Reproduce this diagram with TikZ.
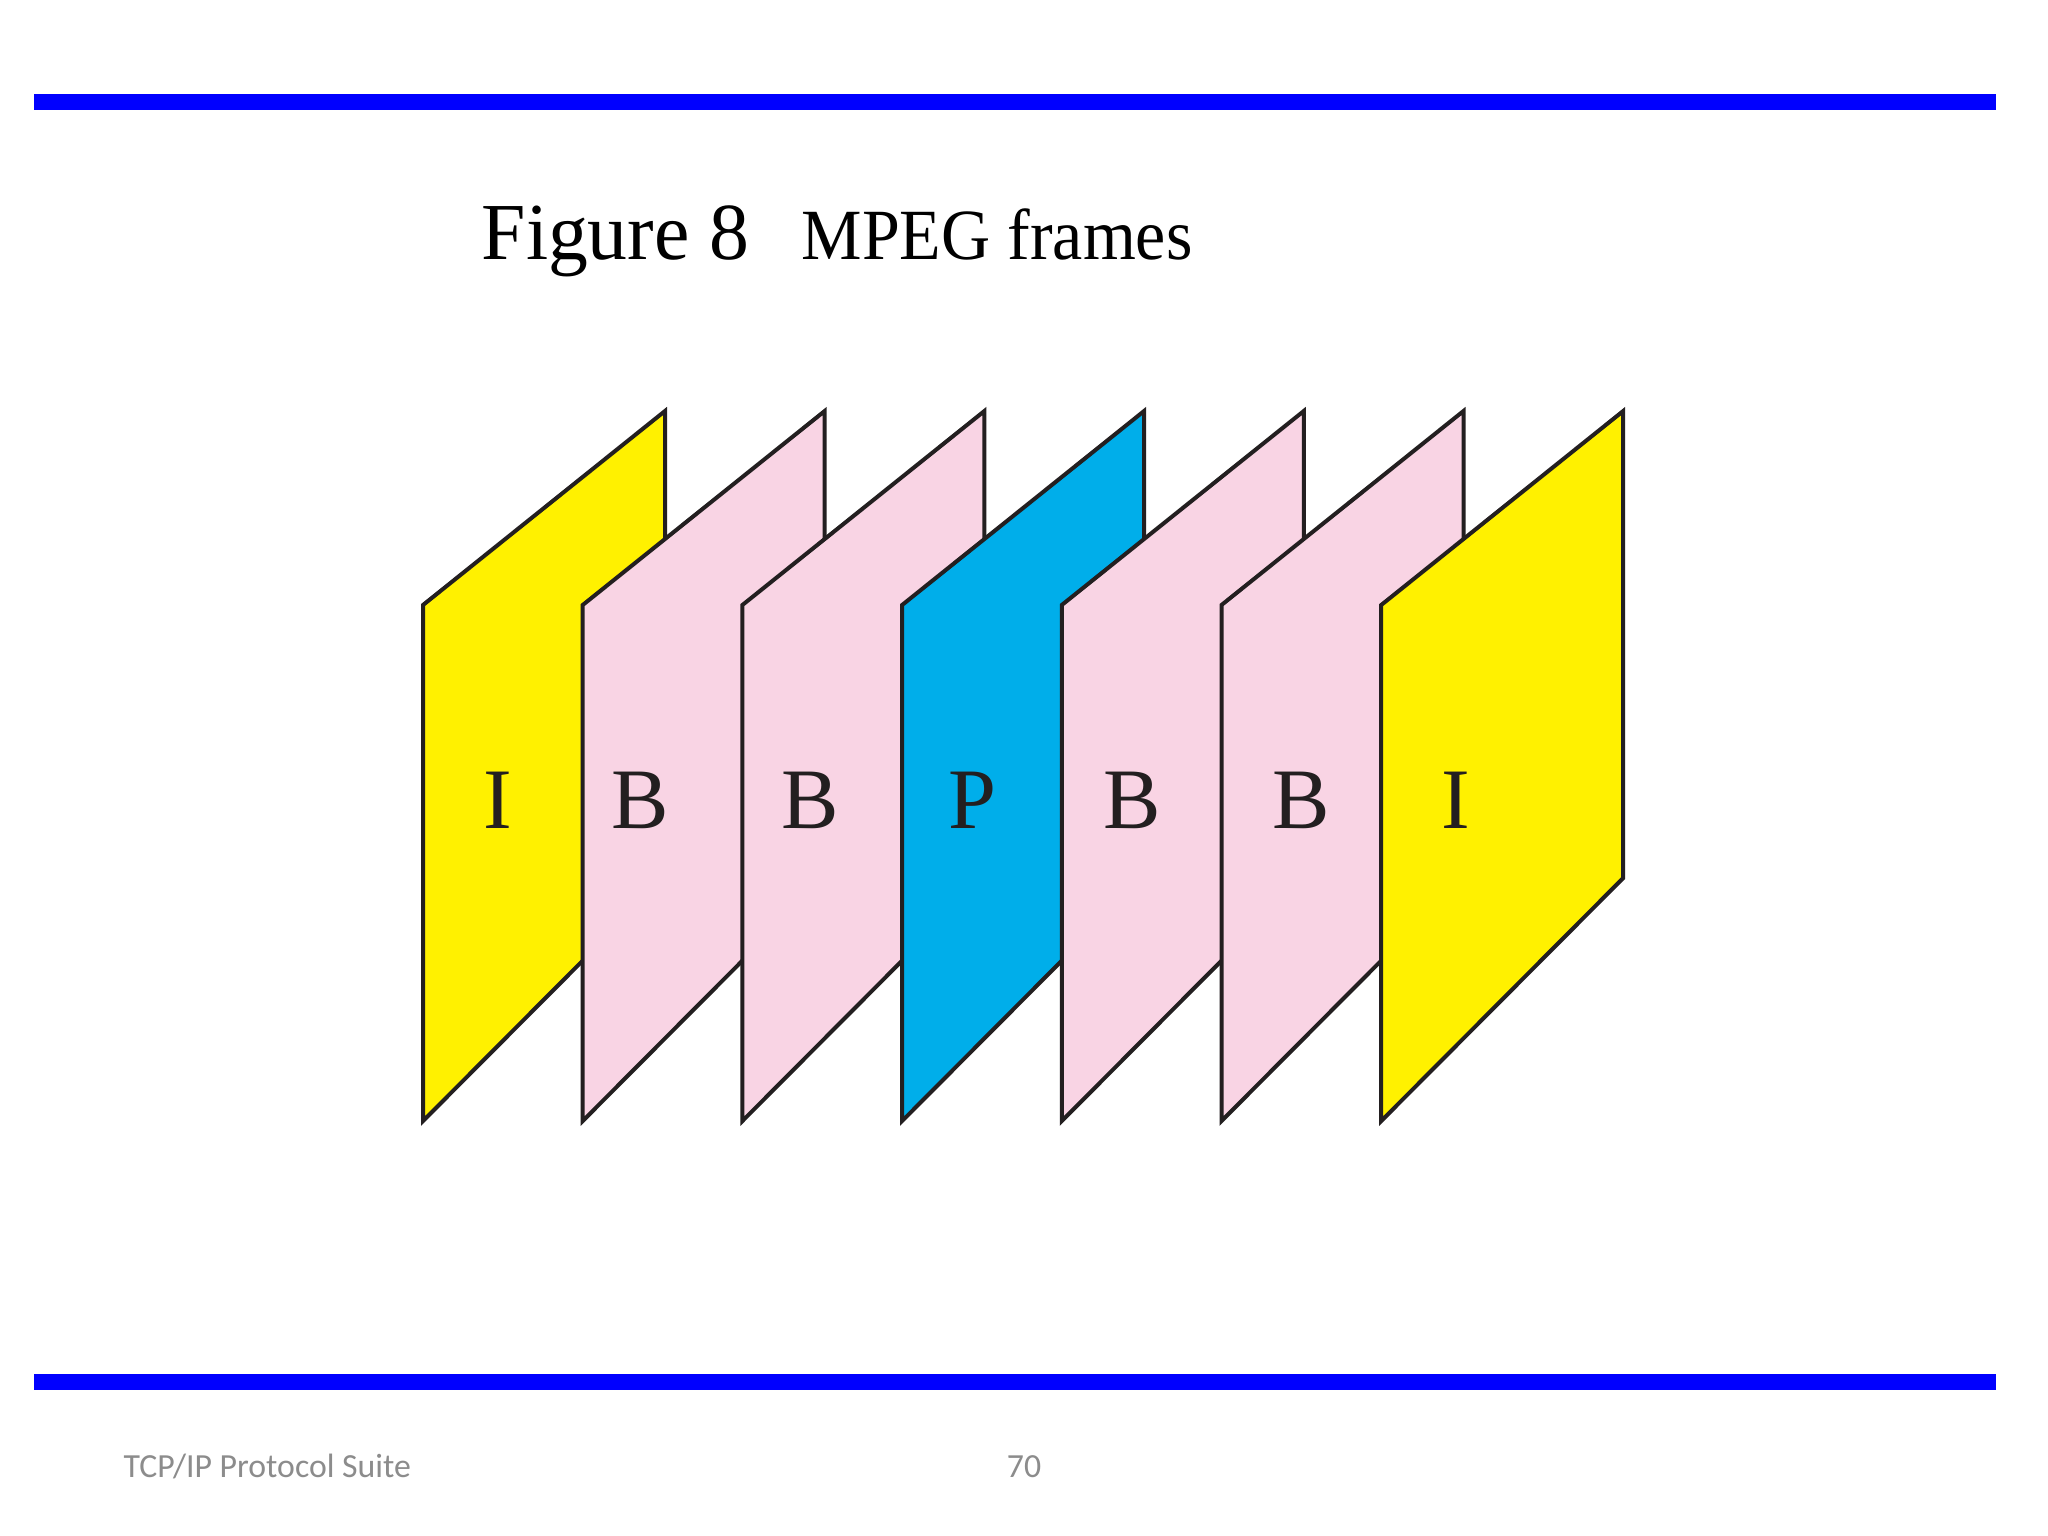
\documentclass[tikz,border=0pt]{standalone}
\usepackage{fontspec}
\newfontfamily\serffont{Liberation Serif}
\newfontfamily\footfont{Carlito}
\definecolor{barblue}{HTML}{0000FF}
\definecolor{fyellow}{HTML}{FFF100}
\definecolor{fpink}{HTML}{F9D4E4}
\definecolor{fblue}{HTML}{00AEEA}
\definecolor{edge}{HTML}{231F20}
\definecolor{footgray}{HTML}{8C8C8C}
\tikzset{
  framebox/.style={draw=edge, line width=0.04cm, line join=miter},
  flabel/.style={inner sep=0, anchor=base, text=edge, font=\serffont\fontsize{24.5}{24.5}\selectfont},
  bar/.style={fill=barblue, draw=none},
}
\begin{document}
\begin{tikzpicture}[x=0.01cm,y=-0.01cm]
\useasboundingbox (0,0) rectangle (2048,1536);
\fill[white] (0,0) rectangle (2048,1536);
% bars
\path[bar] (34,94) rectangle (1996,110);
\path[bar] (34,1374) rectangle (1996,1390);
% title
\node[inner sep=0, anchor=base west, font=\serffont\fontsize{23}{23}\selectfont] (t1) at (481,259) {\scalebox{0.985}[1]{Figure 8}};
\node[inner sep=0, anchor=base west, font=\serffont\fontsize{20.5}{20.5}\selectfont] (t2) at (801,259) {\scalebox{0.943}[1]{MPEG frames}};
% frames
\foreach \i/\col in {0/fyellow,1/fpink,2/fpink,3/fblue,4/fpink,5/fpink,6/fyellow}{
  \pgfmathsetmacro{\xl}{423+159.7*\i}
  \pgfmathsetmacro{\xr}{665+159.7*\i}
  \path[framebox, fill=\col] (\xl,1121) -- (\xl,605) -- (\xr,411) -- (\xr,878) -- cycle;
}
% labels
\node[flabel] (l1) at (498,828) {I};
\node[flabel] (l2) at (640,828) {B};
\node[flabel] (l3) at (810,828) {B};
\node[flabel] (l4) at (972,828) {P};
\node[flabel] (l5) at (1132,828) {B};
\node[flabel] (l6) at (1301,828) {B};
\node[flabel] (l7) at (1456,828) {I};
% footer
\node[inner sep=0, anchor=base west, text=footgray, font=\footfont\fontsize{9.6}{9.6}\selectfont] (f1) at (123,1477) {TCP/IP Protocol Suite};
\node[inner sep=0, anchor=base, text=footgray, font=\footfont\fontsize{9.6}{9.6}\selectfont] (f2) at (1024,1477) {70};
\end{tikzpicture}
\end{document}
